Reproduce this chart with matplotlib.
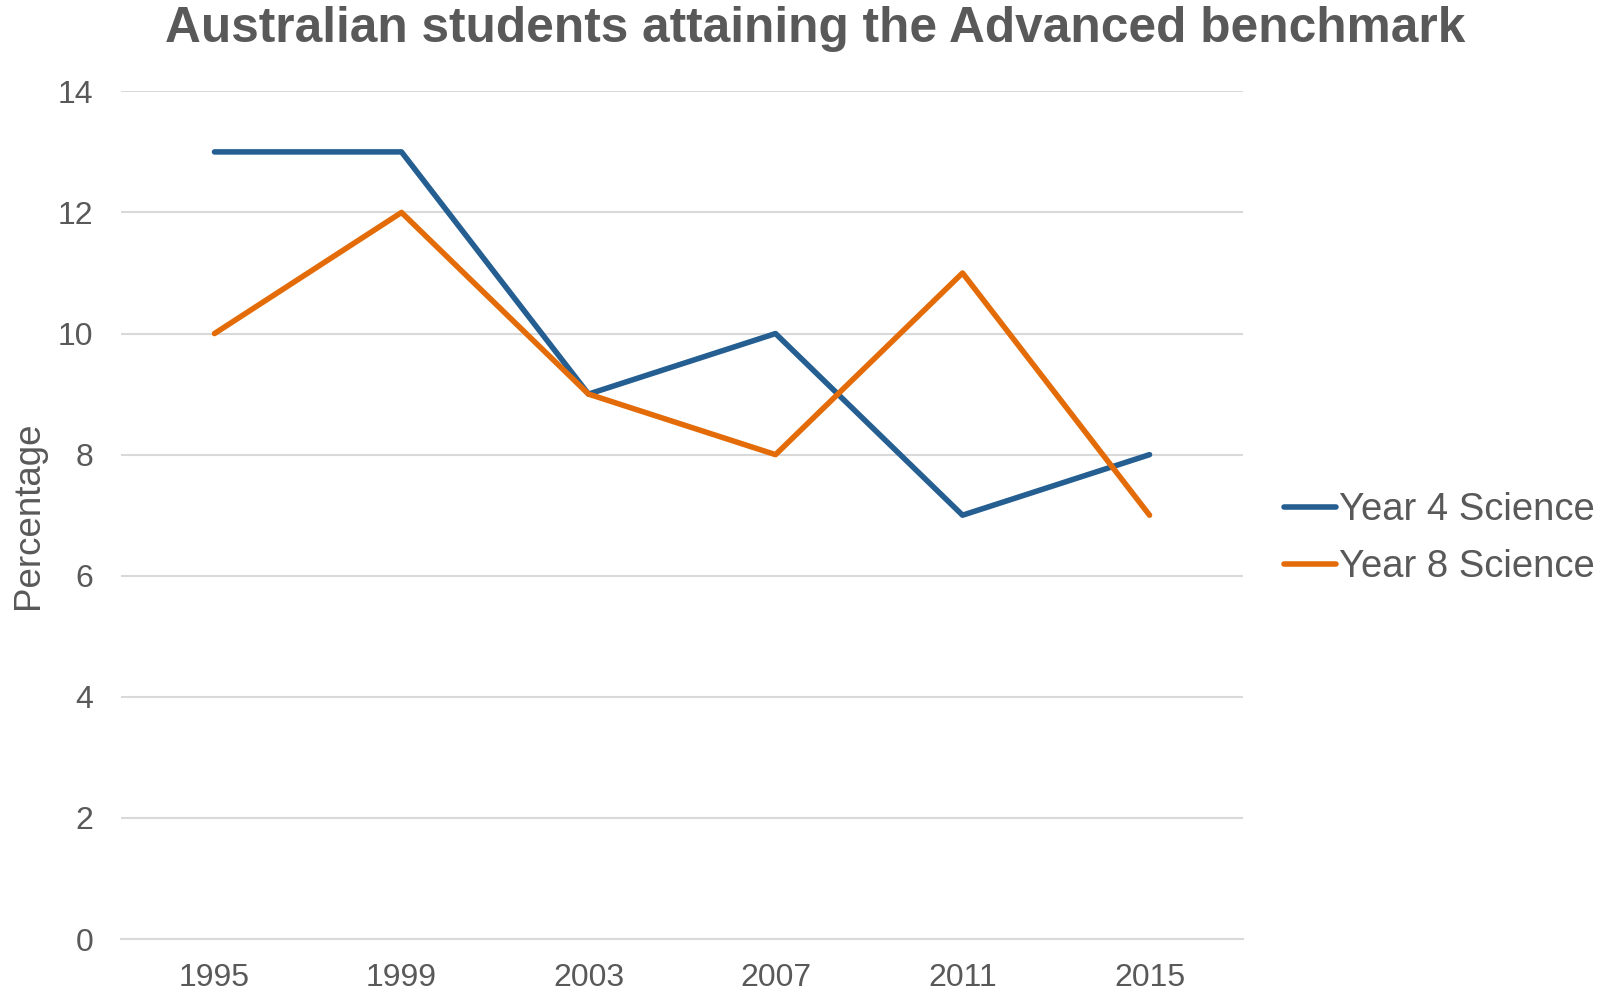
import matplotlib
matplotlib.use("Agg")
import matplotlib.pyplot as plt

years = ["1995", "1999", "2003", "2007", "2011", "2015"]
year4 = [13, 13, 9, 10, 7, 8]
year8 = [10, 12, 9, 8, 11, 7]
yticks = [0, 2, 4, 6, 8, 10, 12, 14]

plt.rcParams['font.family'] = ['Liberation Sans', 'DejaVu Sans']
text_color = '#595959'

fig = plt.figure(figsize=(16.11, 9.92), dpi=100)
ax = fig.add_axes([0.0751, 0.0534, 0.6965, 0.8545])

x = list(range(len(years)))
ax.plot(x, year4, color='#255E91', lw=4.0, solid_capstyle='round', solid_joinstyle='round', label='Year 4 Science', zorder=3)
ax.plot(x, year8, color='#E36C09', lw=4.0, solid_capstyle='round', solid_joinstyle='round', label='Year 8 Science', zorder=3)

ax.set_xlim(-0.5, len(years) - 0.5)
ax.set_ylim(0, 14)
ax.set_yticks(yticks)
ax.set_xticks(x)
ax.set_xticklabels(years)
ax.grid(axis='y', color='#D9D9D9', lw=1.5)
ax.set_axisbelow(True)
for s in ['top', 'right', 'left']:
    ax.spines[s].set_visible(False)
ax.spines['bottom'].set_color('#D9D9D9')
ax.spines['bottom'].set_linewidth(1.5)
ax.tick_params(axis='both', length=0, labelsize=23, labelcolor=text_color)
ax.tick_params(axis='y', pad=20)
ax.tick_params(axis='x', pad=17)
ax.set_ylabel('Percentage', fontsize=26.5, color=text_color, labelpad=8)

fig.suptitle('Australian students attaining the Advanced benchmark', fontsize=35.75,
             fontweight='bold', color=text_color, x=0.506, y=0.971, va='center')

leg = ax.legend(loc='center left', bbox_to_anchor=(0.7757, 0.4567), bbox_transform=fig.transFigure,
                frameon=False, fontsize=27.5, handlelength=1.35, handletextpad=0.1,
                labelspacing=0.55, labelcolor=text_color)

fig.savefig('out.png', dpi=100)
